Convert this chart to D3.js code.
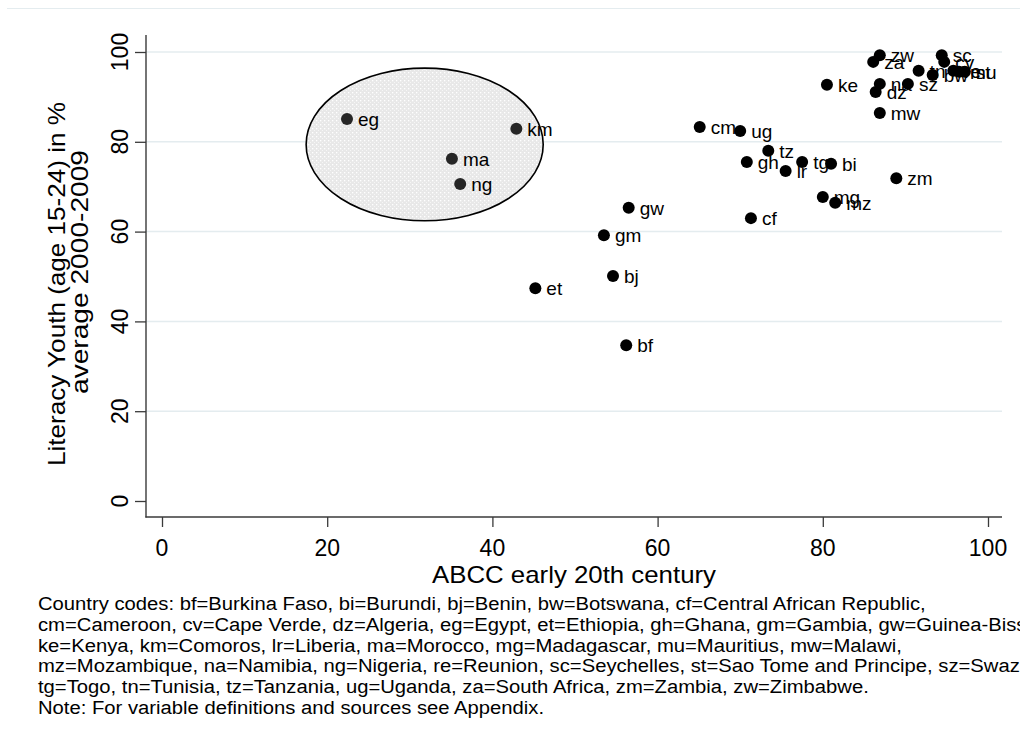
<!DOCTYPE html>
<html>
<head>
<meta charset="utf-8">
<script src="https://cdn.jsdelivr.net/npm/d3@7"></script>
<style>
  body { margin: 0; background: #fff; }
  svg { display: block; }
  text { font-family: "Liberation Sans", Arial, Helvetica, sans-serif; fill: #000; }
</style>
</head>
<body>
<svg id="chart" width="1020" height="747"></svg>
<script>
// Country codes with ABCC (early 20th century) and youth literacy (2000-2009 average)
const codes    = ["bf","bi","bj","bw","cf","cm","cv","dz","eg","et","gh","gm","gw","ke","km","lr","ma",
                  "mg","mu","mw","mz","na","ng","re","sc","st","sz","tg","tn","tz","ug","za","zm","zw"];
const abcc     = [56.2, 81.0, 54.6, 93.3, 71.3, 65.1, 94.7, 86.4, 22.4, 45.2, 70.8, 53.5, 56.5, 80.5, 42.9, 75.5, 35.1,
                  80.0, 96.5, 86.9, 81.5, 86.9, 36.1, 95.8, 94.4, 97.2, 90.3, 77.5, 91.6, 73.4, 70.0, 86.1, 88.9, 86.9];
const literacy = [34.7, 75.1, 50.1, 94.9, 63.0, 83.3, 97.8, 91.1, 85.1, 47.4, 75.5, 59.2, 65.3, 92.7, 82.9, 73.5, 76.2,
                  67.7, 95.6, 86.4, 66.4, 92.9, 70.6, 95.8, 99.3, 95.6, 92.9, 75.5, 95.8, 78.0, 82.4, 97.8, 71.9, 99.3];

// North African / island group circled on the chart
const circled = ["eg","km","ma","ng"];
// circle annotation in data units: centre x, centre y, half-width, half-height
const circleArea = [31.8, 79.4, 14.35, 17.0];

const xTicks = [0, 20, 40, 60, 80, 100];
const yTicks = [0, 20, 40, 60, 80, 100];
const gridTicks = [20, 40, 60, 80, 100];

const xTitle = "ABCC early 20th century";
const yTitle = ["Literacy Youth (age 15-24) in %", "average 2000-2009"];

const noteLines = [
  "Country codes: bf=Burkina Faso, bi=Burundi, bj=Benin, bw=Botswana, cf=Central African Republic,",
  "cm=Cameroon, cv=Cape Verde, dz=Algeria, eg=Egypt, et=Ethiopia, gh=Ghana, gm=Gambia, gw=Guinea-Bissau,",
  "ke=Kenya, km=Comoros, lr=Liberia, ma=Morocco, mg=Madagascar, mu=Mauritius, mw=Malawi,",
  "mz=Mozambique, na=Namibia, ng=Nigeria, re=Reunion, sc=Seychelles, st=Sao Tome and Principe, sz=Swaziland,",
  "tg=Togo, tn=Tunisia, tz=Tanzania, ug=Uganda, za=South Africa, zm=Zambia, zw=Zimbabwe.",
  "Note: For variable definitions and sources see Appendix."
];

const points = codes.map((c, i) => ({ code: c, x: abcc[i], y: literacy[i], inCircle: circled.includes(c) }));

const svg = d3.select("#chart");
const axisColor = "#3a3a3a";
const gridColor = "#e4ecef";

const x = d3.scaleLinear().domain([0, 100]).range([162, 988]);
const y = d3.scaleLinear().domain([0, 100]).range([501, 52]);

const plotLeft = 146, plotBottom = 517, plotTop = 35, plotRight = 1002;

// fill pattern for the circled area
const defs = svg.append("defs");
const pat = defs.append("pattern").attr("id", "dots").attr("patternUnits", "userSpaceOnUse")
  .attr("width", 4).attr("height", 4);
pat.append("rect").attr("width", 4).attr("height", 4).attr("fill", "#e8e8e8");
pat.append("rect").attr("x", 0).attr("y", 0).attr("width", 1.3).attr("height", 1.3).attr("fill", "#ffffff");
pat.append("rect").attr("x", 2).attr("y", 2).attr("width", 1).attr("height", 1).attr("fill", "#f6f6f6");

// top frame line
svg.append("line").attr("x1", 7).attr("x2", 1020).attr("y1", 8.5).attr("y2", 8.5)
  .attr("stroke", gridColor).attr("stroke-width", 1.2);

// gridlines
svg.append("g").selectAll("line").data(gridTicks).join("line")
  .attr("x1", plotLeft).attr("x2", plotRight)
  .attr("y1", d => y(d)).attr("y2", d => y(d))
  .attr("stroke", gridColor).attr("stroke-width", 1.5);

// circled area (fill)
const [ecx, ecy, erx, ery] = circleArea;
svg.append("ellipse")
  .attr("cx", x(ecx)).attr("cy", y(ecy))
  .attr("rx", x(erx) - x(0)).attr("ry", y(0) - y(ery))
  .attr("fill", "url(#dots)");

// y axis
const yAxis = svg.append("g").attr("transform", `translate(${plotLeft},0)`)
  .call(d3.axisLeft(y).tickValues(yTicks).tickSize(11).tickFormat(""));
yAxis.select(".domain").remove();
yAxis.selectAll(".tick line").attr("stroke", axisColor).attr("stroke-width", 1.3);
svg.append("line").attr("x1", plotLeft).attr("x2", plotLeft).attr("y1", plotTop).attr("y2", plotBottom + 0.6)
  .attr("stroke", axisColor).attr("stroke-width", 1.4);
svg.append("g").selectAll("text").data(yTicks).join("text")
  .attr("transform", d => `translate(128,${y(d)}) rotate(-90)`)
  .attr("text-anchor", "middle")
  .style("font-size", "23px")
  .text(d => d);

// x axis
const xAxis = svg.append("g").attr("transform", `translate(0,${plotBottom})`)
  .call(d3.axisBottom(x).tickValues(xTicks).tickSize(10).tickFormat(""));
xAxis.select(".domain").remove();
xAxis.selectAll(".tick line").attr("stroke", axisColor).attr("stroke-width", 1.3);
svg.append("line").attr("x1", plotLeft - 0.6).attr("x2", plotRight).attr("y1", plotBottom).attr("y2", plotBottom)
  .attr("stroke", axisColor).attr("stroke-width", 1.4);
svg.append("g").selectAll("text").data(xTicks).join("text")
  .attr("x", d => x(d)).attr("y", 556)
  .attr("text-anchor", "middle")
  .style("font-size", "23px")
  .text(d => d);

// axis titles
svg.append("text").attr("x", 574).attr("y", 583).attr("text-anchor", "middle")
  .style("font-size", "24px").attr("textLength", 284).attr("lengthAdjust", "spacingAndGlyphs")
  .text(xTitle);
const yT = svg.append("g");
yT.append("text").attr("transform", "translate(65,284) rotate(-90)").attr("text-anchor", "middle")
  .style("font-size", "24px").attr("textLength", 364).attr("lengthAdjust", "spacingAndGlyphs")
  .text(yTitle[0]);
yT.append("text").attr("transform", "translate(88,272) rotate(-90)").attr("text-anchor", "middle")
  .style("font-size", "24px").attr("textLength", 244).attr("lengthAdjust", "spacingAndGlyphs")
  .text(yTitle[1]);

// markers
svg.append("g").selectAll("circle").data(points).join("circle")
  .attr("cx", d => x(d.x)).attr("cy", d => y(d.y)).attr("r", 6)
  .attr("fill", d => d.inCircle ? "#262626" : "#000");

// marker labels
svg.append("g").selectAll("text").data(points).join("text")
  .attr("x", d => x(d.x) + 11).attr("y", d => y(d.y)).attr("dy", "0.36em")
  .style("font-size", "19px")
  .text(d => d.code);

// circled area (outline)
svg.append("ellipse")
  .attr("cx", x(ecx)).attr("cy", y(ecy))
  .attr("rx", x(erx) - x(0)).attr("ry", y(0) - y(ery))
  .attr("fill", "none").attr("stroke", "#000").attr("stroke-width", 1.6);

// notes below the chart, stretched by a common horizontal factor
const notes = svg.append("g");
const noteText = notes.selectAll("text").data(noteLines).join("text")
  .attr("x", 38).attr("y", (d, i) => 610 + i * 20.8)
  .style("font-size", "18px")
  .text(d => d);
const lastNode = noteText.nodes()[noteLines.length - 1];
const factor = 506 / lastNode.getComputedTextLength();
noteText.each(function () {
  const w = this.getComputedTextLength();
  d3.select(this).attr("textLength", w * factor).attr("lengthAdjust", "spacingAndGlyphs");
});
</script>
</body>
</html>
